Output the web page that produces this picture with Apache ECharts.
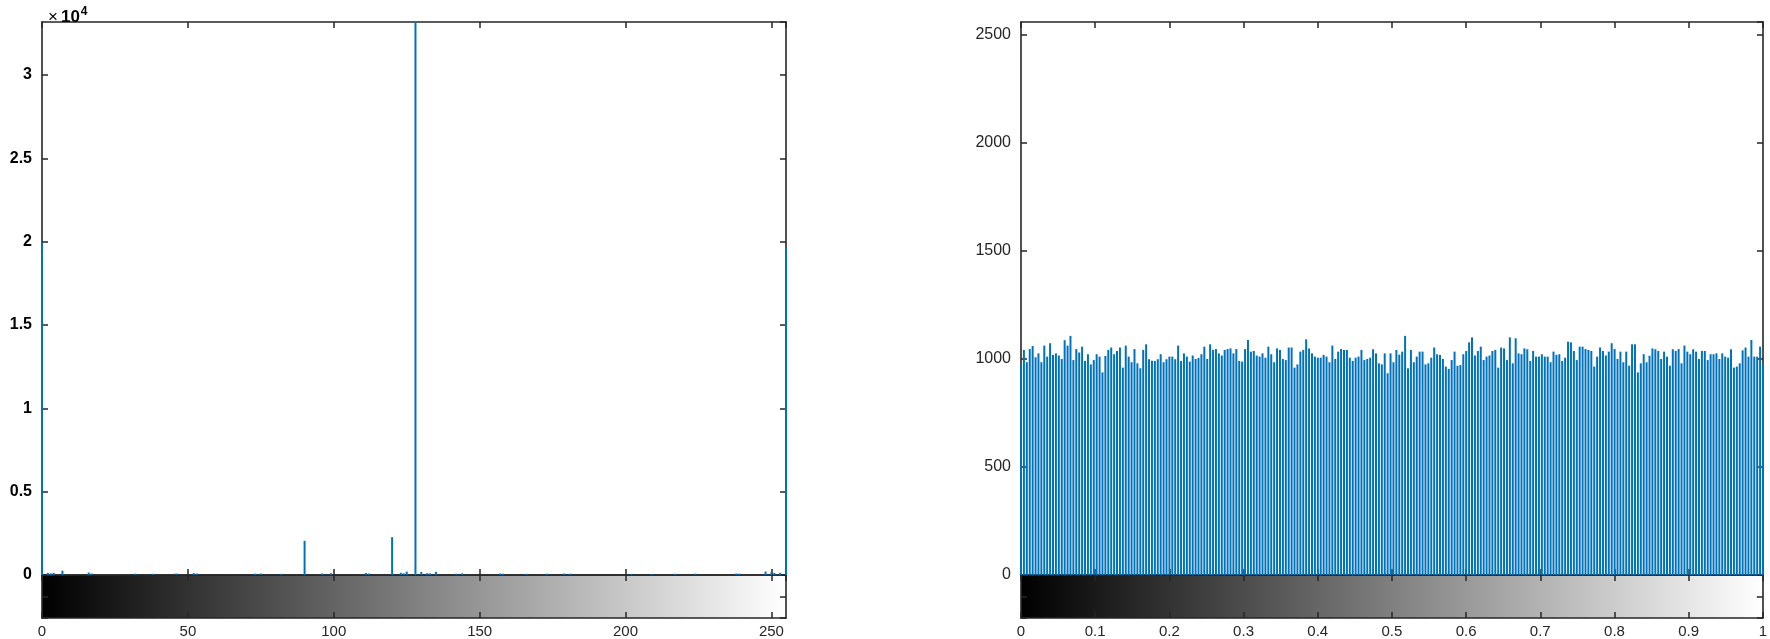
<!DOCTYPE html>
<html>
<head>
<meta charset="utf-8">
<script src="https://cdn.jsdelivr.net/npm/echarts@6/dist/echarts.min.js"></script>
<style>
html,body{margin:0;padding:0;background:#fff;}
#chart{width:1770px;height:639px;}
</style>
</head>
<body>
<div id="chart"></div>
<script>
// ---------- DATA ----------
// Left histogram (uint8 image, bins 0..255): non-zero bins only
const leftBins   = [0, 2, 3, 4, 7, 16, 17, 32, 38, 46, 52, 53, 73, 75, 82, 90, 96, 99, 111, 112, 120, 123, 124, 125, 128, 130, 132, 133, 135, 142, 144, 157, 158, 166, 173, 179, 181, 202, 209, 217, 224, 238, 239, 248, 250, 251, 253, 255];
const leftCounts = [19950, 120, 100, 130, 260, 150, 90, 80, 70, 90, 110, 90, 80, 90, 70, 2050, 90, 110, 120, 90, 2270, 130, 100, 200, 33180, 180, 110, 100, 190, 80, 100, 90, 80, 70, 80, 90, 80, 70, 60, 70, 80, 90, 80, 210, 160, 120, 130, 19650];
const leftXTicks = [0, 50, 100, 150, 200, 250];

// Right histogram (double image, 256 bins over 0..1)
const rightCounts = [
 975,1042,985,1046,1060,1008,1026,985,1062,1011,1073,1019,1026,1016,1000,1087,1062,1107,995,1046,
 1030,1057,991,1022,975,995,1022,1011,938,1014,1042,1053,1022,1037,1053,960,1062,1011,985,1046,
 980,957,1042,1068,999,992,991,999,1022,985,999,1011,1011,999,1062,991,1026,1011,988,1016,
 1000,1005,1022,1057,1000,1068,1042,1046,1026,1016,1042,1046,1049,1026,1046,991,988,1046,1088,1034,
 1037,1016,1011,1026,1006,1057,
 1022,985,1049,1042,1000,995,1053,1053,960,975,1034,1042,1091,1049,1026,1011,1006,1006,1019,1011,
 985,1062,1000,1034,1046,1042,1042,1006,991,1006,1011,1042,995,1000,1006,1045,1026,980,975,1026,
 934,1026,985,1042,1020,1034,1107,957,1042,985,1011,1034,1034,975,980,1006,1053,1022,1019,1000,
 965,954,995,1034,969,972,1022,1037,1077,1100,1016,1037,1057,995,1011,1016,1037,1042,960,1053,
 1049,995,1100,980,1096,
 1026,1022,1049,1045,991,1037,1011,1011,1022,1011,1011,985,1034,1019,1022,991,1006,1080,1077,1037,
 995,1057,1057,1046,1042,1037,965,1011,1053,1037,1016,1034,1073,1046,1000,1034,985,1034,969,1068,
 1068,938,980,1022,985,1015,1049,1045,1037,1000,1034,1011,969,1045,1037,1046,980,1062,1034,1022,
 1045,1034,1000,1037,1037,995,1022,1022,1026,1000,1026,1011,1006,1045,960,965,980,1040,1053,1011,
 1088,1011,1011,1057,975
];
const rightXTicks = [0,0.1,0.2,0.3,0.4,0.5,0.6,0.7,0.8,0.9,1];

// ---------- CHART ----------
const BLUE = '#0072BD';
const AX = '#262626';
const FONT = 'Liberation Sans, Arial, sans-serif';

const leftData = leftBins.map((b, i) => [b, leftCounts[i]]);
const rightData = rightCounts.map((c, i) => [i / (rightCounts.length - 1), c]);

const chart = echarts.init(document.getElementById('chart'), null, {renderer: 'canvas'});

function lineStyle() { return {show: true, lineStyle: {color: AX, width: 1.6}}; }
function tickIn(len) { return {show: true, inside: true, length: len || 6, lineStyle: {color: AX, width: 1.5}}; }

function xAx(grid, pos, max, interval, labels, fmt) {
  return {
    type: 'value', gridIndex: grid, position: pos, min: 0, max: max, interval: interval,
    axisLine: Object.assign(lineStyle(), {onZero: false}), axisTick: tickIn(6), splitLine: {show: false},
    axisLabel: labels ? {show: true, color: AX, fontFamily: FONT, fontSize: 15, margin: 6, showMaxLabel: max === 1, formatter: fmt} : {show: false}
  };
}
function yAx(grid, pos, max, interval, labels, fmt, bold) {
  return {
    type: 'value', gridIndex: grid, position: pos, min: 0, max: max, interval: interval,
    axisLine: Object.assign(lineStyle(), {onZero: false}), axisTick: tickIn(6), splitLine: {show: false},
    axisLabel: labels ? {show: true, color: bold ? '#000' : AX, fontWeight: bold ? 'bold' : 'normal', fontFamily: FONT, fontSize: 16, margin: 10, showMaxLabel: false, formatter: fmt} : {show: false}
  };
}

function grayBar(params, api) {
  const cs = params.coordSys;
  return {
    type: 'rect',
    shape: {x: cs.x, y: cs.y, width: cs.width, height: cs.height},
    style: {fill: new echarts.graphic.LinearGradient(0, 0, 1, 0, [{offset: 0, color: '#000'}, {offset: 1, color: '#fff'}])}
  };
}

const option = {
  animation: false,
  backgroundColor: '#fff',
  title: {
    text: '{a|×}{b|10}{s|4}', left: 43, top: 1,
    textStyle: {rich: {
      a: {fontFamily: FONT, fontWeight: 'normal', fontSize: 17, color: '#000', verticalAlign: 'bottom', lineHeight: 20, padding: [0,3,0,0]},
      b: {fontFamily: FONT, fontWeight: 'bold', fontSize: 17, color: '#000', verticalAlign: 'bottom', lineHeight: 20},
      s: {fontFamily: FONT, fontWeight: 'bold', fontSize: 12, color: '#000', verticalAlign: 'top', lineHeight: 14, padding: [0,0,8,1]}
    }}
  },
  grid: [
    {left: 42, top: 22, width: 744, height: 553},
    {left: 42, top: 575, width: 744, height: 44},
    {left: 1021, top: 22, width: 742, height: 553},
    {left: 1021, top: 575, width: 742, height: 44}
  ],
  xAxis: [
    xAx(0, 'bottom', 255, 50, false),
    xAx(0, 'top', 255, 50, false),
    xAx(1, 'bottom', 255, 50, true),
    xAx(1, 'top', 255, 50, false),
    xAx(2, 'bottom', 1, 0.1, false),
    xAx(2, 'top', 1, 0.1, false),
    xAx(3, 'bottom', 1, 0.1, true, v => (Math.round(v * 10) / 10).toString()),
    xAx(3, 'top', 1, 0.1, false)
  ],
  yAxis: [
    yAx(0, 'left', 33180, 5000, true, v => (v / 10000).toString(), true),
    yAx(0, 'right', 33180, 5000, false),
    yAx(1, 'left', 2, 1, false),
    yAx(1, 'right', 2, 1, false),
    yAx(2, 'left', 2560, 500, true, v => v.toString(), false),
    yAx(2, 'right', 2560, 500, false),
    yAx(3, 'left', 2, 1, false),
    yAx(3, 'right', 2, 1, false)
  ],
  series: [
    {type: 'bar', xAxisIndex: 0, yAxisIndex: 0, data: leftData, barWidth: 2, itemStyle: {color: BLUE}, clip: false, z: 5},
    {type: 'custom', xAxisIndex: 2, yAxisIndex: 2, data: [[0, 0]], renderItem: grayBar, z: 0, silent: true},
    {type: 'bar', xAxisIndex: 4, yAxisIndex: 4, data: rightData, barWidth: 2, itemStyle: {color: BLUE}, clip: false, z: 5},
    {type: 'custom', xAxisIndex: 6, yAxisIndex: 6, data: [[0, 0]], renderItem: grayBar, z: 0, silent: true}
  ]
};
chart.setOption(option);
</script>
</body>
</html>
